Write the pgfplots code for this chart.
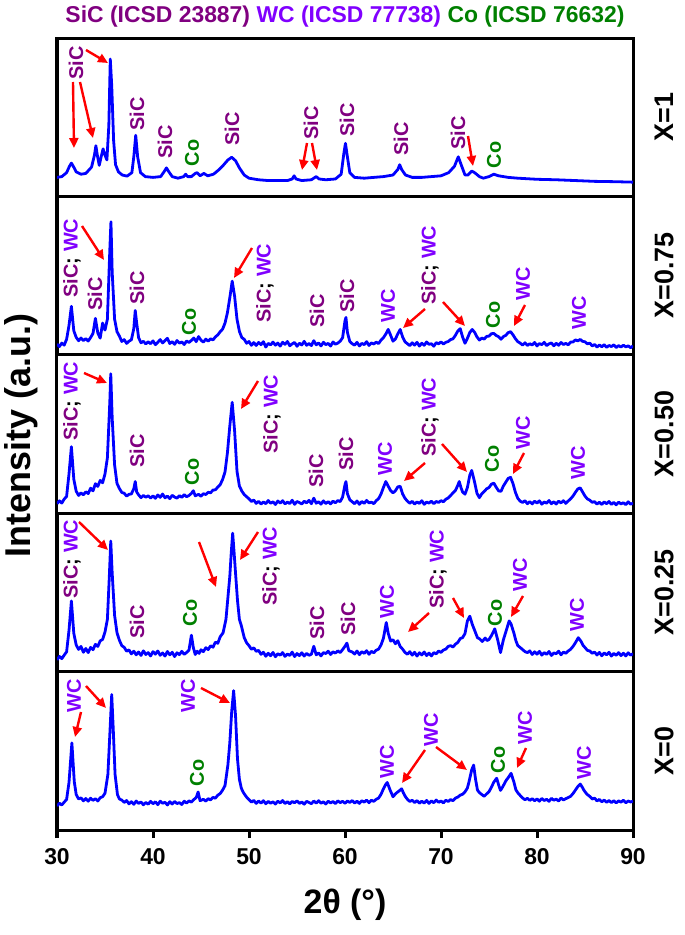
\documentclass[border=0pt]{standalone}
\usepackage{fontspec}
\setmainfont{Liberation Sans}
\usepackage{pgfplots}
\usepackage{pgfplotstable}
\pgfplotsset{compat=1.18}
\usetikzlibrary{arrows.meta}
\definecolor{sic}{RGB}{128,0,128}
\definecolor{wc}{RGB}{128,0,255}
\definecolor{co}{RGB}{0,128,0}

\pgfplotstableread{
x y
30.0 12
30.5 12.5
31.0 15
31.3 19
31.5 21
31.7 19
32.0 15.5
32.5 14
33.0 14.5
33.3 16.5
33.6 18.5
33.9 26
34.05 32
34.2 26
34.4 19.6
34.6 25
34.8 30
35.0 26
35.2 23
35.4 45
35.55 86.7
35.7 70
35.9 35
36.1 20
36.4 15.5
36.8 13.5
37.3 12.8
37.8 15
38.0 25
38.2 38.6
38.4 25
38.7 15
39.2 12.5
40.0 12
40.8 12.5
41.2 16
41.4 18
41.6 16
42.0 12.5
42.6 11.5
43.2 12.5
43.4 14
43.6 12.5
44.0 12.5
44.4 14.5
44.6 15
44.9 13
45.3 14.5
45.7 13
46.3 14
46.8 16.5
47.3 19.5
47.8 23
48.2 24.7
48.6 22.5
49.0 18
49.5 13.5
50.0 11.5
51 10.5
52 10
53 10
54 10
54.5 11
54.7 13
54.9 11
55.5 10
56.5 10.5
57.0 12.5
57.3 11
58 10.5
59 11
59.6 14
59.9 28
60.05 33.5
60.2 27
60.5 15
61 12
62 11.5
63 12
64 12.5
65 13.5
65.5 17
65.7 20
65.9 17
66.3 13.5
67 12
68 12
69 12.5
70 13
70.8 15
71.4 19
71.8 25
72.1 20
72.5 13.5
72.8 13.5
73.2 16
73.5 15
74 12.5
74.4 11.5
75 12.5
75.5 14
76 13
77 12
78 11.5
80 10.8
82 10.5
84 10
86 9.5
88 9.3
90 9
}\dataA

\pgfplotstableread{
x y
30.00 6.8
30.25 5.2
30.50 7.4
30.75 6.1
31.00 9.8
31.25 18.5
31.50 30.6
31.75 15.2
32.00 11.0
32.25 8.9
32.50 10.6
32.75 9.0
33.00 10.2
33.25 8.7
33.50 10.9
33.75 13.5
34.00 23.0
34.25 13.8
34.50 10.5
34.75 20.0
35.00 15.6
35.25 22.5
35.50 66
35.62 84
35.75 52
36.00 22.5
36.25 14.6
36.50 11.8
36.75 8.4
37.00 9.6
37.25 7.2
37.50 8.6
37.75 9.5
38.00 16.5
38.15 28
38.30 20
38.50 10.8
38.75 7.6
39.00 8.5
39.25 6.9
39.50 8.2
39.75 7.0
40.00 8.8
40.25 6.4
40.50 7.9
40.75 9.6
41.00 7.5
41.25 8.9
41.50 10.4
41.75 7.1
42.00 8.3
42.25 6.6
42.50 9.0
42.75 7.4
43.00 8.1
43.25 6.5
43.50 8.7
43.75 7.8
44.00 9.1
44.25 10.6
44.50 8.3
44.75 11.5
45.00 9.2
45.25 8.0
45.50 9.9
45.75 8.6
46.00 10.1
46.25 9.4
46.50 11.3
46.75 12.6
47.00 14.6
47.25 16.2
47.50 20.0
47.75 26.5
48.00 36
48.25 46.5
48.50 37
48.75 22.5
49.00 14.8
49.25 10.9
49.50 9.8
49.75 7.3
50.00 8.4
50.25 6.0
50.50 7.7
50.75 5.9
51.00 7.8
51.25 6.4
51.50 8.3
51.75 4.9
52.00 7.2
52.25 6.3
52.50 8.0
52.75 6.1
53.00 7.4
53.25 5.5
53.50 7.9
53.75 6.6
54.00 8.4
54.25 5.7
54.50 6.9
54.75 7.8
55.00 5.4
55.25 7.3
55.50 6.2
55.75 8.5
56.00 6.0
56.25 7.1
56.50 5.8
56.75 8.9
57.00 6.3
57.25 7.5
57.50 5.6
57.75 7.9
58.00 6.4
58.25 7.2
58.50 5.5
58.75 8.1
59.00 6.7
59.25 7.4
59.50 8.6
59.75 10.8
60.00 21.5
60.10 23.6
60.25 14.2
60.50 8.4
60.75 7.0
61.00 6.1
61.25 7.9
61.50 5.6
61.75 7.2
62.00 6.4
62.25 8.3
62.50 5.9
62.75 7.5
63.00 6.8
63.25 8.0
63.50 7.1
63.75 9.3
64.00 10.8
64.25 13.1
64.50 16.0
64.75 12.4
65.00 8.6
65.25 10.0
65.50 13.2
65.75 16.0
66.00 11.3
66.25 8.2
66.50 7.0
66.75 5.8
67.00 7.6
67.25 6.1
67.50 7.9
67.75 5.5
68.00 7.3
68.25 6.0
68.50 8.1
68.75 6.6
69.00 7.0
69.25 5.4
69.50 7.7
69.75 6.9
70.00 8.2
70.25 6.8
70.50 7.9
70.75 8.4
71.00 9.6
71.25 10.1
71.50 12.3
71.75 15.0
72.00 16.5
72.25 11.2
72.50 7.3
72.75 10.4
73.00 14.1
73.25 16.0
73.50 14.2
73.75 11.3
74.00 9.3
74.25 10.6
74.50 9.9
74.75 11.6
75.00 11.8
75.25 13.3
75.50 13.5
75.75 12.2
76.00 11.4
76.25 9.8
76.50 11.5
76.75 12.3
77.00 14.0
77.25 14.6
77.50 12.6
77.75 10.2
78.00 8.3
78.25 7.4
78.50 6.1
78.75 7.6
79.00 5.9
79.25 7.0
79.50 6.2
79.75 7.8
80.00 5.6
80.25 7.1
80.50 6.4
80.75 7.9
81.00 5.8
81.25 6.9
81.50 7.5
81.75 5.7
82.00 7.3
82.25 6.0
82.50 7.8
82.75 6.5
83.00 7.2
83.25 6.3
83.50 8.0
83.75 8.1
84.00 9.4
84.25 8.8
84.50 9.7
84.75 8.5
85.00 8.2
85.25 6.9
85.50 7.4
85.75 5.6
86.00 6.5
86.25 4.9
86.50 6.2
86.75 5.1
87.00 6.4
87.25 4.7
87.50 5.9
87.75 5.2
88.00 6.3
88.25 4.6
88.50 5.8
88.75 4.9
89.00 6.1
89.25 5.0
89.50 5.7
89.75 4.5
90.00 5.6
}\dataB

\pgfplotstableread{
x y
30.00 6.0
30.25 7.8
30.50 6.4
30.75 8.9
31.00 10.6
31.25 24.8
31.50 42.0
31.75 21.5
32.00 13.9
32.25 11.2
32.50 12.8
32.75 11.6
33.00 13.5
33.25 12.4
33.50 15.8
33.75 14.1
34.00 18.6
34.25 16.9
34.50 20.7
34.75 19.2
35.00 24.8
35.25 35
35.50 70
35.60 88
35.75 60
36.00 30.5
36.25 18.8
36.50 15.6
36.75 13.1
37.00 12.6
37.25 10.8
37.50 11.9
37.75 12.2
38.00 15.4
38.15 20.0
38.30 13.4
38.50 11.6
38.75 9.8
39.00 11.2
39.25 10.1
39.50 11.0
39.75 9.6
40.00 10.9
40.25 9.4
40.50 11.5
40.75 10.0
41.00 12.1
41.25 9.7
41.50 10.8
41.75 9.2
42.00 11.3
42.25 10.2
42.50 9.5
42.75 11.1
43.00 10.0
43.25 11.7
43.50 10.4
43.75 11.2
44.00 12.5
44.20 14.2
44.40 11.0
44.75 11.9
45.00 10.7
45.25 12.3
45.50 11.8
45.75 13.2
46.00 12.9
46.25 14.6
46.50 14.8
46.75 16.5
47.00 18.0
47.25 21.3
47.50 26.0
47.75 38
48.00 55
48.25 70
48.50 52
48.75 26.5
49.00 17.2
49.25 14.0
49.50 11.8
49.75 10.4
50.00 9.1
50.25 7.4
50.50 8.3
50.75 6.2
51.00 7.5
51.25 5.8
51.50 7.1
51.75 6.0
52.00 8.0
52.25 6.3
52.50 7.2
52.75 5.5
53.00 7.7
53.25 6.4
53.50 7.9
53.75 5.9
54.00 7.0
54.25 6.1
54.50 8.2
54.75 5.6
55.00 7.4
55.25 6.7
55.50 5.8
55.75 7.6
56.00 6.5
56.25 8.1
56.50 6.0
56.75 9.5
57.00 6.3
57.25 7.2
57.50 5.7
57.75 7.8
58.00 6.1
58.25 7.3
58.50 5.9
58.75 7.6
59.00 6.6
59.25 8.0
59.50 7.3
59.75 10.2
60.00 18.0
60.10 20.0
60.25 12.3
60.50 8.5
60.75 7.2
61.00 6.0
61.25 7.7
61.50 5.6
61.75 7.4
62.00 6.2
62.25 8.1
62.50 6.5
62.75 7.0
63.00 6.0
63.25 7.9
63.50 9.2
63.75 12.1
64.00 16.2
64.25 20.0
64.50 17.1
64.75 14.3
65.00 12.8
65.25 14.2
65.50 16.6
65.75 17.0
66.00 12.2
66.25 9.4
66.50 7.6
66.75 6.3
67.00 7.5
67.25 5.8
67.50 7.1
67.75 6.2
68.00 7.9
68.25 5.6
68.50 7.0
68.75 6.4
69.00 7.6
69.25 6.0
69.50 7.4
69.75 6.8
70.00 7.9
70.25 7.2
70.50 8.8
70.75 9.6
71.00 11.2
71.25 12.8
71.50 14.3
71.75 17.6
71.90 20.0
72.10 15.8
72.25 13.4
72.50 12.0
72.75 16.2
73.00 24.0
73.20 27.0
73.50 19.6
73.75 12.5
74.00 9.8
74.25 12.3
74.50 13.7
74.75 15.4
75.00 16.2
75.25 18.3
75.50 19.0
75.75 16.4
76.00 14.1
76.25 13.8
76.50 17.2
76.75 19.6
77.00 22.0
77.25 22.6
77.50 18.7
77.75 13.2
78.00 9.4
78.25 7.6
78.50 6.8
78.75 7.9
79.00 6.0
79.25 7.3
79.50 5.9
79.75 7.6
80.00 6.4
80.25 7.8
80.50 5.7
80.75 7.1
81.00 6.3
81.25 8.0
81.50 6.0
81.75 7.2
82.00 5.8
82.25 7.6
82.50 6.5
82.75 7.9
83.00 6.2
83.25 7.7
83.50 9.1
83.75 10.8
84.00 13.2
84.25 15.3
84.50 16.0
84.75 13.4
85.00 10.8
85.25 9.0
85.50 8.2
85.75 6.9
86.00 7.3
86.25 5.8
86.50 6.9
86.75 5.5
87.00 7.1
87.25 6.0
87.50 7.4
87.75 5.6
88.00 6.8
88.25 5.3
88.50 7.0
88.75 5.9
89.00 6.6
89.25 5.4
89.50 7.2
89.75 5.7
90.00 6.3
}\dataC

\pgfplotstableread{
x y
30.00 7.4
30.25 9.6
30.50 8.2
30.75 10.4
31.00 12.5
31.25 26.0
31.50 44.6
31.75 24.2
32.00 16.8
32.25 14.0
32.50 15.9
32.75 12.2
33.00 14.6
33.25 12.0
33.50 15.3
33.75 13.8
34.00 17.2
34.25 15.9
34.50 19.4
34.75 20.3
35.00 25.0
35.25 33.0
35.45 60
35.60 82.4
35.75 62
36.00 35.5
36.25 24.5
36.50 19.8
36.75 16.4
37.00 15.3
37.25 12.9
37.50 13.7
37.75 11.2
38.00 12.9
38.25 10.6
38.50 12.4
38.75 10.2
39.00 13.1
39.25 10.8
39.50 12.0
39.75 9.9
40.00 12.6
40.25 11.0
40.50 13.0
40.75 10.3
41.00 11.8
41.25 9.8
41.50 12.7
41.75 10.6
42.00 12.2
42.25 9.5
42.50 11.9
42.75 10.7
43.00 12.8
43.25 10.9
43.50 12.1
43.75 13.6
44.00 23.0
44.20 15.2
44.40 10.8
44.60 12.9
44.80 11.5
45.00 13.8
45.25 12.6
45.50 15.1
45.75 13.9
46.00 16.3
46.25 15.4
46.50 18.6
46.75 17.9
47.00 22.0
47.30 24.5
47.60 33
47.85 50
48.00 60
48.15 75
48.30 87.4
48.45 75
48.60 62
48.80 45
49.00 33
49.20 29
49.50 21.5
49.75 18.2
50.00 16.4
50.25 14.1
50.50 15.0
50.75 12.8
51.00 13.4
51.25 10.9
51.50 12.2
51.75 9.7
52.00 11.6
52.25 10.0
52.50 12.1
52.75 9.4
53.00 11.3
53.25 10.4
53.50 12.0
53.75 9.6
54.00 11.1
54.25 10.2
54.50 12.3
54.75 9.5
55.00 11.4
55.25 10.1
55.50 11.9
55.75 9.8
56.00 11.5
56.25 10.3
56.50 11.0
56.75 16.0
57.00 10.6
57.25 11.8
57.50 9.9
57.75 12.0
58.00 11.4
58.25 12.9
58.50 10.8
58.75 12.5
59.00 11.7
59.25 13.1
59.50 12.0
59.75 13.9
60.00 16.0
60.20 18.0
60.40 13.2
60.75 12.4
61.00 11.1
61.25 13.0
61.50 10.7
61.75 12.6
62.00 11.5
62.25 13.2
62.50 10.9
62.75 12.8
63.00 11.9
63.25 13.5
63.50 14.2
63.75 16.8
64.00 21.0
64.30 31.0
64.50 24.2
64.75 19.3
65.00 20.1
65.25 17.6
65.50 19.5
65.75 15.8
66.00 14.2
66.25 12.1
66.50 11.0
66.75 12.6
67.00 10.4
67.25 12.2
67.50 9.8
67.75 11.9
68.00 10.5
68.25 12.4
68.50 10.1
68.75 11.7
69.00 9.9
69.25 12.0
69.50 11.2
69.75 13.0
70.00 12.1
70.25 13.6
70.50 14.2
70.75 15.9
71.00 16.4
71.25 15.5
71.50 17.3
71.75 18.4
72.00 20.8
72.25 21.5
72.50 24.0
72.75 32.0
73.00 35.0
73.25 30.0
73.60 24.5
73.80 21.4
74.00 20.8
74.30 19.0
74.60 21.2
74.80 19.6
75.00 20.3
75.30 23.2
75.60 27.0
75.90 20.2
76.20 12.0
76.50 20.1
76.80 26.0
77.10 32.0
77.30 30.0
77.60 24.2
77.80 19.5
78.00 16.4
78.25 15.2
78.50 13.9
78.75 12.6
79.00 12.0
79.25 13.1
79.50 10.8
79.75 12.5
80.00 11.0
80.25 12.8
80.50 10.4
80.75 12.0
81.00 10.9
81.25 12.7
81.50 10.2
81.75 11.8
82.00 11.3
82.25 12.9
82.50 10.6
82.75 12.3
83.00 11.6
83.25 13.0
83.50 14.1
83.75 15.9
84.00 18.2
84.30 21.4
84.60 19.0
84.80 16.5
85.00 15.2
85.25 13.4
85.50 13.0
85.75 11.6
86.00 12.3
86.25 10.5
86.50 12.1
86.75 10.0
87.00 11.8
87.25 10.6
87.50 12.2
87.75 9.8
88.00 11.5
88.25 10.3
88.50 12.0
88.75 10.1
89.00 11.6
89.25 9.9
89.50 11.9
89.75 10.4
90.00 11.3
}\dataD

\pgfplotstableread{
x y
30.00 15.2
30.25 16.9
30.50 15.8
30.75 17.6
31.00 19.3
31.25 30.0
31.55 55.0
31.80 30.5
32.00 22.4
32.25 19.6
32.50 20.3
32.75 18.4
33.00 19.9
33.25 18.2
33.50 20.1
33.75 18.7
34.00 19.8
34.25 18.3
34.50 20.4
34.75 21.0
35.00 23.2
35.30 35.0
35.50 60
35.70 85.5
35.85 65
36.05 35
36.30 22.3
36.50 19.6
36.75 18.9
37.00 17.4
37.25 18.6
37.50 16.5
37.75 17.9
38.00 16.2
38.25 18.3
38.50 16.8
38.75 17.7
39.00 15.9
39.25 17.4
39.50 16.3
39.75 18.1
40.00 16.6
40.25 17.8
40.50 16.0
40.75 18.2
41.00 16.9
41.25 17.5
41.50 15.8
41.75 17.9
42.00 16.4
42.25 18.0
42.50 16.7
42.75 17.3
43.00 16.1
43.25 18.2
43.50 17.0
43.75 18.4
44.00 17.6
44.25 19.2
44.50 20.5
44.70 24.0
44.90 18.5
45.25 19.4
45.50 18.2
45.75 19.8
46.00 19.0
46.25 20.6
46.50 20.1
46.75 22.0
47.00 23.0
47.25 25.2
47.50 28.0
47.80 41
48.00 55
48.20 75
48.40 88
48.60 72
48.80 45
49.00 32
49.20 26.4
49.40 23.8
49.60 22.0
49.80 20.4
50.00 19.2
50.25 17.6
50.50 18.7
50.75 16.8
51.00 18.3
51.25 17.0
51.50 18.5
51.75 16.6
52.00 18.1
52.25 16.9
52.50 17.8
52.75 16.4
53.00 18.2
53.25 17.1
53.50 18.6
53.75 16.7
54.00 17.9
54.25 16.5
54.50 18.0
54.75 17.2
55.00 18.4
55.25 16.8
55.50 17.7
55.75 16.3
56.00 18.1
56.25 17.4
56.50 16.6
56.75 18.3
57.00 17.0
57.25 18.5
57.50 16.9
57.75 17.8
58.00 16.4
58.25 18.2
58.50 17.1
58.75 18.0
59.00 16.7
59.25 18.4
59.50 17.3
59.75 18.1
60.00 16.9
60.25 18.3
60.50 17.4
60.75 18.6
61.00 17.0
61.25 18.2
61.50 16.8
61.75 18.5
62.00 17.6
62.25 18.9
62.50 17.2
62.75 18.8
63.00 18.1
63.25 19.4
63.50 20.2
63.75 22.5
64.00 26.0
64.20 28.4
64.40 30.0
64.70 25.2
65.00 21.0
65.30 23.1
65.60 24.5
65.90 26.0
66.10 23.2
66.30 21.0
66.50 19.4
66.75 18.0
67.00 18.8
67.25 17.3
67.50 18.6
67.75 16.9
68.00 18.2
68.25 17.0
68.50 18.7
68.75 16.8
69.00 18.4
69.25 17.2
69.50 18.9
69.75 17.5
70.00 18.3
70.25 17.1
70.50 18.8
70.75 18.0
71.00 19.2
71.25 18.5
71.50 20.1
71.75 20.8
72.00 22.0
72.25 22.6
72.50 24.1
72.75 26.5
72.90 30.0
73.20 38.0
73.40 41.0
73.60 32.0
73.80 25.2
74.00 23.6
74.25 22.4
74.50 21.3
74.75 22.8
75.00 24.2
75.25 27.0
75.50 30.2
75.80 32.7
76.00 28.5
76.20 25.0
76.40 27.0
76.60 29.2
76.80 31.5
77.00 33.0
77.30 35.8
77.60 30.2
77.80 25.4
78.00 23.5
78.25 21.8
78.50 20.2
78.75 19.1
79.00 20.0
79.25 18.7
79.50 19.8
79.75 18.5
80.00 19.6
80.25 18.2
80.50 19.9
80.75 18.6
81.00 19.4
81.25 18.1
81.50 20.0
81.75 18.8
82.00 19.5
82.25 18.3
82.50 20.2
82.75 19.0
83.00 19.8
83.25 20.5
83.50 21.3
83.75 23.0
84.00 25.2
84.25 27.4
84.50 29.0
84.70 27.2
84.90 25.0
85.20 22.6
85.50 21.2
85.75 19.6
86.00 20.1
86.25 18.4
86.50 19.3
86.75 17.8
87.00 18.9
87.25 17.5
87.50 18.6
87.75 17.3
88.00 18.5
88.25 17.1
88.50 18.4
88.75 17.6
89.00 18.8
89.25 17.2
89.50 18.3
89.75 17.7
90.00 18.2
}\dataE

\pgfplotsset{
  panel/.style={
    scale only axis, width=576bp, height=158.4bp,
    xmin=30, xmax=90, ymin=0, ymax=100,
    ytick=\empty, xtick=\empty,
    axis line style={line width=3bp},
    anchor=north west, clip mode=individual,
  },
  xrd/.style={color={rgb,255:red,0;green,0;blue,255}, line width=2.8bp, line join=round, no marks},
}
\tikzset{
  rlab/.style={rotate=90, inner sep=0pt, font=\fontsize{27}{27}\selectfont\bfseries},
  lab/.style={rotate=90, inner sep=0pt, font=\fontsize{20}{20}\selectfont\bfseries},
  arr/.style={red, line width=2.4bp, -{Triangle[length=10bp,width=9bp]}},
}
\newcommand{\sw}{\textcolor{sic}{SiC}; \textcolor{wc}{WC}}

\begin{document}
\begin{tikzpicture}
\begin{axis}[panel, at={(0bp,0bp)}]
\addplot[xrd] table[x=x,y=y] {\dataA};
\node[rlab] at (axis description cs:1.0538,0.5) {X=1};
\node[font=\fontsize{23}{23}\selectfont\bfseries, inner sep=0pt] at (axis description cs:0.5,1.1326)
  {\textcolor{sic}{SiC (ICSD 23887)} \textcolor{wc}{WC (ICSD 77738)} \textcolor{co}{Co (ICSD 76632)}};
\end{axis}
\begin{axis}[panel, at={(0bp,-158.4bp)}]
\addplot[xrd] table[x=x,y=y] {\dataB};
\node[rlab] at (axis description cs:1.0538,0.5) {X=0.75};
\end{axis}
\begin{axis}[panel, at={(0bp,-316.8bp)},
  ylabel={Intensity (a.u.)},
  ylabel style={at={(axis description cs:-0.0625,0.49)}, anchor=center,
    font=\fontsize{36}{36}\selectfont\bfseries, inner sep=0pt}]
\addplot[xrd] table[x=x,y=y] {\dataC};
\node[rlab] at (axis description cs:1.0538,0.5) {X=0.50};
\end{axis}
\begin{axis}[panel, at={(0bp,-475.2bp)}]
\addplot[xrd] table[x=x,y=y] {\dataD};
\node[rlab] at (axis description cs:1.0538,0.5) {X=0.25};
\end{axis}
\begin{axis}[panel, at={(0bp,-633.6bp)},
  xtick={30,40,50,60,70,80,90}, xtick pos=bottom, tick align=outside,
  major tick length=8bp, tick style={line width=3bp, black},
  /pgf/number format/assume math mode=true,
  xticklabel style={font=\fontsize{23}{23}\selectfont\bfseries, yshift=-7bp},
  xlabel={2θ (°)},
  xlabel style={at={(axis description cs:0.5,0)}, anchor=center, yshift=-75bp,
    font=\fontsize{34}{34}\selectfont\bfseries, inner sep=0pt}]
\addplot[xrd] table[x=x,y=y] {\dataE};
\node[rlab] at (axis description cs:1.0538,0.5) {X=0};
\end{axis}

\begin{scope}[x=1bp, y=-1bp, shift={(-57,-38)}]
% panel X=1
\node[lab, sic] at (76,63) {SiC};
\node[lab, sic] at (137,114) {SiC};
\node[lab, sic] at (165,142) {SiC};
\node[lab, co] at (192,153) {Co};
\node[lab, sic] at (232,129) {SiC};
\node[lab, sic] at (311,123) {SiC};
\node[lab, sic] at (347,120) {SiC};
\node[lab, sic] at (401,139) {SiC};
\node[lab, sic] at (458,133) {SiC};
\node[lab, co] at (494,155) {Co};
\draw[arr] (73,82) -- (74,148);
\draw[arr] (80,82) -- (93,138);
\draw[arr] (86,50) -- (108,63);
\draw[arr] (307,143) -- (302,170);
\draw[arr] (312,143) -- (317,170);
\draw[arr] (468,136) -- (473,166);
% panel X=0.75
\node[lab] at (72,258) {\sw};
\node[lab, sic] at (95,294) {SiC};
\node[lab, sic] at (137,288) {SiC};
\node[lab, co] at (189,322) {Co};
\node[lab] at (265,283) {\sw};
\node[lab, sic] at (317,311) {SiC};
\node[lab, sic] at (347,296) {SiC};
\node[lab, wc] at (388,306) {WC};
\node[lab] at (430,265) {\sw};
\node[lab, co] at (493,315) {Co};
\node[lab, wc] at (523,284) {WC};
\node[lab, wc] at (579,313) {WC};
\draw[arr] (82,226) -- (104,260);
\draw[arr] (252,248) -- (234,278);
\draw[arr] (425,309) -- (403,328);
\draw[arr] (443,302) -- (465,326);
\draw[arr] (525,305) -- (514,326);
% panel X=0.50
\node[lab] at (72,401) {\sw};
\node[lab, sic] at (137,451) {SiC};
\node[lab, co] at (192,472) {Co};
\node[lab] at (272,414) {\sw};
\node[lab, sic] at (316,471) {SiC};
\node[lab, sic] at (346,454) {SiC};
\node[lab, wc] at (385,459) {WC};
\node[lab] at (430,417) {\sw};
\node[lab, co] at (492,459) {Co};
\node[lab, wc] at (523,433) {WC};
\node[lab, wc] at (578,463) {WC};
\draw[arr] (84,373) -- (107,383);
\draw[arr] (258,381) -- (241,409);
\draw[arr] (425,463) -- (404,481);
\draw[arr] (442,444) -- (467,472);
\draw[arr] (524,453) -- (513,474);
% panel X=0.25
\node[lab] at (72,559) {\sw};
\node[lab, sic] at (137,622) {SiC};
\node[lab, co] at (190,613) {Co};
\node[lab] at (271,566) {\sw};
\node[lab, sic] at (317,623) {SiC};
\node[lab, sic] at (348,619) {SiC};
\node[lab, wc] at (387,602) {WC};
\node[lab] at (438,569) {\sw};
\node[lab, co] at (495,613) {Co};
\node[lab, wc] at (520,575) {WC};
\node[lab, wc] at (577,615) {WC};
\draw[arr] (79,522) -- (108,550);
\draw[arr] (199,542) -- (216,587);
\draw[arr] (258,532) -- (240,560);
\draw[arr] (429,613) -- (408,632);
\draw[arr] (453,598) -- (464,618);
\draw[arr] (523,596) -- (511,617);
% panel X=0
\node[lab, wc] at (74,696) {WC};
\node[lab, wc] at (188,696) {WC};
\node[lab, co] at (197,773) {Co};
\node[lab, wc] at (387,762) {WC};
\node[lab, wc] at (431,730) {WC};
\node[lab, co] at (498,760) {Co};
\node[lab, wc] at (525,728) {WC};
\node[lab, wc] at (584,763) {WC};
\draw[arr] (81,712) -- (75,737);
\draw[arr] (86,686) -- (106,708);
\draw[arr] (201,688) -- (230,703);
\draw[arr] (425,750) -- (402,783);
\draw[arr] (436,747) -- (467,770);
\draw[arr] (526,748) -- (517,768);
\end{scope}

\pgfresetboundingbox
\path[use as bounding box] (-57bp,-897bp) rectangle (628bp,38bp);
\end{tikzpicture}
\end{document}
